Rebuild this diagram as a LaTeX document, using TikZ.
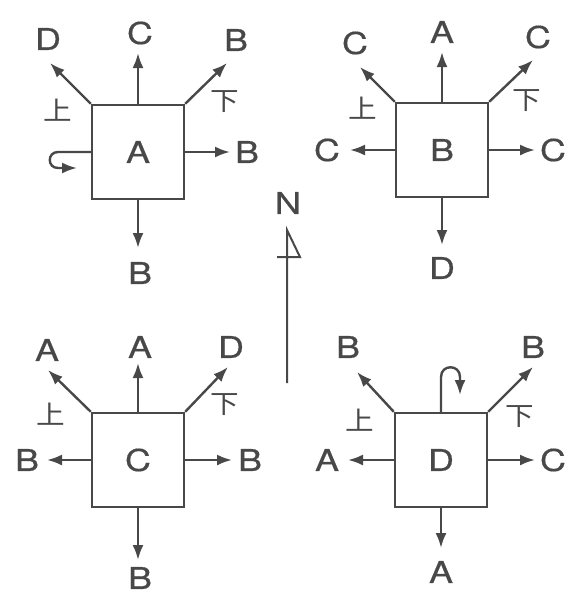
\documentclass[tikz,border=0pt]{standalone}
\usepackage{fontspec}
\setmainfont{TeX Gyre Heros}
\newfontfamily\labfont[FakeStretch=1.2,FakeBold=0.5]{TeX Gyre Heros}
\newfontfamily\cjk[FakeStretch=1.1]{Noto Sans CJK SC}
\usetikzlibrary{arrows.meta}
\definecolor{ink}{RGB}{72,72,72}
\begin{document}
\begin{tikzpicture}[x=1pt,y=-1pt,
  line width=2.4pt, draw=ink, text=ink,
  box/.style={draw=ink, line width=2.4pt, minimum width=92pt, minimum height=94pt, inner sep=0pt, font=\labfont\fontsize{30}{30}\selectfont},
  lab/.style={inner sep=0pt, font=\labfont\fontsize{30}{30}\selectfont},
  kanji/.style={inner sep=0pt, font=\cjk\fontsize{26}{26}\selectfont},
  arr/.style={-{Latex[length=15pt,width=11pt]}, draw=ink, line width=2.4pt},
  north/.style={draw=ink, line width=2pt, line join=miter}]
\useasboundingbox (0,0) rectangle (569,595);

% ---------- Box A ----------
\node[box] (A) at (138,152) {A};
\coordinate (An) at (138,53);   \node[lab] (lAn) at (140,33) {C};
\coordinate (Anw) at (50,63);   \node[lab] (lAnw) at (48,39) {D};
\coordinate (Ane) at (227,63);  \node[lab] (lAne) at (236,40) {B};
\coordinate (Ae) at (230,152);  \node[lab] (lAe) at (247,152) {B};
\coordinate (As) at (138,248);  \node[lab] (lAs) at (140,273) {B};
\node[kanji] (Aup) at (58,110) {上};
\node[kanji] (Adn) at (225,102) {下};
\draw[arr] (A.north) -- (An);
\draw[arr] (A.north west) -- (Anw);
\draw[arr] (A.north east) -- (Ane);
\draw[arr] (A.east) -- (Ae);
\draw[arr] (A.south) -- (As);
\coordinate (Aw) at (77,168);
\draw[arr] (A.west) -- (58,152) .. controls (47,152) and (47,168) .. (58,168) -- (Aw);

% ---------- Box B ----------
\node[box] (B) at (442,150) {B};
\coordinate (Bn) at (442,52);   \node[lab] (lBn) at (442,32) {A};
\coordinate (Bnw) at (360,67);  \node[lab] (lBnw) at (355,43) {C};
\coordinate (Bne) at (533,60);  \node[lab] (lBne) at (538,37) {C};
\coordinate (Bw) at (350,150);  \node[lab] (lBw) at (327,150) {C};
\coordinate (Be) at (535,150);  \node[lab] (lBe) at (553,150) {C};
\coordinate (Bs) at (442,245);  \node[lab] (lBs) at (442,268) {D};
\node[kanji] (Bup) at (363,108) {上};
\node[kanji] (Bdn) at (527,101) {下};
\draw[arr] (B.north) -- (Bn);
\draw[arr] (B.north west) -- (Bnw);
\draw[arr] (B.north east) -- (Bne);
\draw[arr] (B.west) -- (Bw);
\draw[arr] (B.east) -- (Be);
\draw[arr] (B.south) -- (Bs);

% ---------- Box C ----------
\node[box] (C) at (138,460) {C};
\coordinate (Cn) at (138,363);  \node[lab] (lCn) at (140,347) {A};
\coordinate (Cnw) at (48,370);  \node[lab] (lCnw) at (47,350) {A};
\coordinate (Cne) at (228,367); \node[lab] (lCne) at (231,347) {D};
\coordinate (Cw) at (47,460);   \node[lab] (lCw) at (27,460) {B};
\coordinate (Ce) at (232,460);  \node[lab] (lCe) at (250,460) {B};
\coordinate (Cs) at (138,560);  \node[lab] (lCs) at (140,578) {B};
\node[kanji] (Cup) at (51,414) {上};
\node[kanji] (Cdn) at (225,405) {下};
\draw[arr] (C.north) -- (Cn);
\draw[arr] (C.north west) -- (Cnw);
\draw[arr] (C.north east) -- (Cne);
\draw[arr] (C.west) -- (Cw);
\draw[arr] (C.east) -- (Ce);
\draw[arr] (C.south) -- (Cs);

% ---------- Box D ----------
\node[box] (D) at (441,460) {D};
\coordinate (Dnw) at (357,372); \node[lab] (lDnw) at (348,347) {B};
\coordinate (Dne) at (533,367); \node[lab] (lDne) at (533,347) {B};
\coordinate (Dw) at (348,460);  \node[lab] (lDw) at (327,460) {A};
\coordinate (De) at (535,460);  \node[lab] (lDe) at (553,460) {C};
\coordinate (Ds) at (441,548);  \node[lab] (lDs) at (441,572) {A};
\node[kanji] (Dup) at (360,420) {上};
\node[kanji] (Ddn) at (520,417) {下};
\coordinate (Dn) at (460,395);
\draw[arr] (D.north) -- (441,377) .. controls (441,364) and (460,364) .. (460,377) -- (Dn);
\draw[arr] (D.north west) -- (Dnw);
\draw[arr] (D.north east) -- (Dne);
\draw[arr] (D.west) -- (Dw);
\draw[arr] (D.east) -- (De);
\draw[arr] (D.south) -- (Ds);

% ---------- North arrow ----------
\node[lab] (N) at (288,203) {N};
\coordinate (Nbot) at (287,383);
\coordinate (Ntip) at (287,230);
\draw[north] (Nbot) -- (Ntip) -- (300,257) -- (277,257);
\end{tikzpicture}
\end{document}
